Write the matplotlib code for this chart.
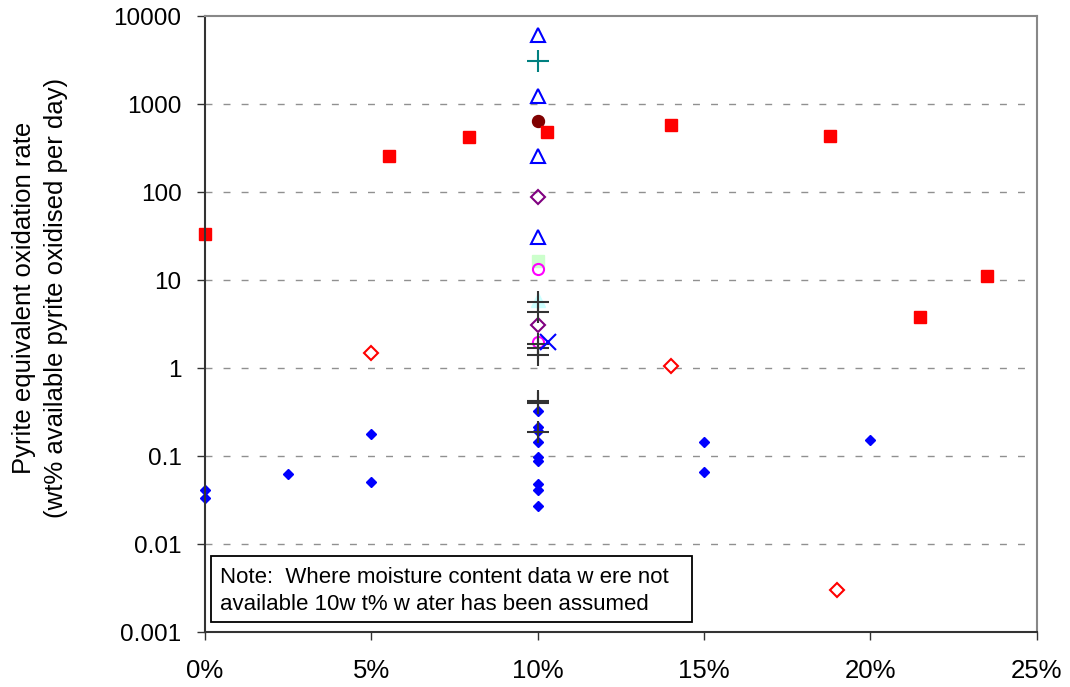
import matplotlib
matplotlib.use("Agg")
import matplotlib.pyplot as plt
from matplotlib.patches import Rectangle
from matplotlib.ticker import FixedLocator, NullLocator, FuncFormatter

plt.rcParams["font.family"] = ["Liberation Sans", "DejaVu Sans"]

# moisture content (wt%) and oxidation rate, one list pair per series
blue_dia_x = [0, 0, 2.5, 5, 5, 10, 10, 10, 10, 10, 10, 10, 10, 10, 15, 15, 20]
blue_dia_y = [0.041, 0.034, 0.063, 0.178, 0.051, 0.33, 0.217, 0.195, 0.144,
              0.099, 0.089, 0.048, 0.041, 0.027, 0.144, 0.066, 0.152]

red_sq_x = [0, 5.54, 7.94, 10.28, 14.0, 18.8, 21.5, 23.5]
red_sq_y = [34, 261, 422, 489, 577, 440, 3.83, 11.3]

red_open_x = [5, 14, 19]
red_open_y = [1.5, 1.05, 0.003]

tri_x = [10, 10, 10, 10]
tri_y = [6200, 1230, 256, 31.2]

teal_x = [10]
teal_y = [3130]

circ_dark_x = [10]
circ_dark_y = [646]

purple_x = [10, 10]
purple_y = [89, 3.1]

green_x = [10]
green_y = [16.5]

magenta_x = [10, 10]
magenta_y = [13.3, 2.0]

cyan_x = [10]
cyan_y = [6.0]

cross_x = [10, 10, 10, 10, 10, 10, 10, 10]
cross_y = [5.7, 4.4, 1.9, 1.7, 1.4, 0.42, 0.40, 0.187]

bluex_x = [10.32]
bluex_y = [2.0]

xticks = [0, 5, 10, 15, 20, 25]
yticks = [0.001, 0.01, 0.1, 1, 10, 100, 1000, 10000]

fs = 17.5

fig = plt.figure(figsize=(10.7, 6.87), dpi=100)
ax = fig.add_axes([0.1916, 0.0796, 0.7773, 0.8967])

# grid lines (dashed, decades only)
for v in yticks[1:-1]:
    ax.axhline(v, color="#909090", lw=1.0, ls=(0, (5, 8)), zorder=0)

kw = dict(linestyle="none", clip_on=False)
ax.plot(circ_dark_x, circ_dark_y, marker="o", ms=8.6, color="#800000", **kw)
ax.plot(red_sq_x, red_sq_y, marker="s", ms=8.6, color="#ff0000", **kw)
ax.plot(green_x, green_y, marker="s", ms=9, color="#ccffcc", **kw)
ax.plot(cyan_x, cyan_y, marker="^", ms=10, color="#ccffff", **kw)
ax.plot(blue_dia_x, blue_dia_y, marker="D", ms=5.1, color="#0000ff", **kw)
ax.plot(tri_x, tri_y, marker="^", ms=10.5, mfc="none", mec="#0000ff", mew=1.5, **kw)
ax.plot(teal_x, teal_y, marker="+", ms=16, mec="#008080", mew=1.5, **kw)
ax.plot(purple_x, purple_y, marker="D", ms=7.6, mfc="none", mec="#800080", mew=1.5, **kw)
ax.plot(magenta_x, magenta_y, marker="o", ms=8, mfc="none", mec="#ff00ff", mew=1.5, **kw)
ax.plot(cross_x, cross_y, marker="+", ms=16, mec="#333333", mew=1.5, **kw)
ax.plot(bluex_x, bluex_y, marker="x", ms=11, mec="#0000ff", mew=1.5, **kw)
ax.plot(red_open_x, red_open_y, marker="D", ms=7.3, mfc="none", mec="#ff0000", mew=1.5, **kw)

ax.set_yscale("log")
ax.set_ylim(0.001, 10000)
ax.set_xlim(0, 25)
ax.yaxis.set_major_locator(FixedLocator(yticks))
ax.yaxis.set_minor_locator(NullLocator())
ax.yaxis.set_major_formatter(FuncFormatter(lambda v, p: f"{v:g}"))
ax.set_xticks(xticks)
ax.set_xticklabels([f"{v}%" for v in xticks])
ax.tick_params(axis="y", direction="out", length=6, width=1, color="#333333",
               labelsize=fs, pad=11)
ax.tick_params(axis="x", direction="out", length=6, width=1, color="#333333",
               labelsize=fs + 1, pad=13)

for side in ["left", "bottom"]:
    ax.spines[side].set_color("#333333")
    ax.spines[side].set_linewidth(1.5)
for side in ["top", "right"]:
    ax.spines[side].set_color("#888888")
    ax.spines[side].set_linewidth(1.5)

fig.text(0.0374, 0.566,
         "Pyrite equivalent oxidation rate\n(wt% available pyrite oxidised per day)",
         rotation=90, ha="center", va="center", multialignment="center",
         fontsize=18.5, linespacing=1.4)

# note box
ax.add_patch(Rectangle((0.0069, 0.0172), 0.579, 0.107, transform=ax.transAxes,
                       facecolor="white", edgecolor="black", lw=1.3, zorder=5))
ax.text(0.018, 0.0665,
        "Note:  Where moisture content data w ere not\navailable 10w t% w ater has been assumed",
        transform=ax.transAxes, ha="left", va="center", fontsize=16,
        linespacing=1.38, zorder=6)

fig.savefig("out.png", dpi=100)
